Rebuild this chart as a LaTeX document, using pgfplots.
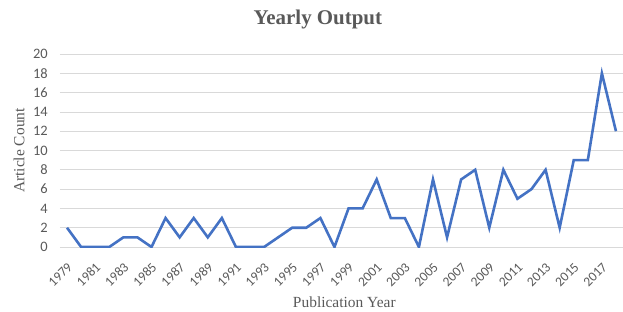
\documentclass[border=0pt]{standalone}
\usepackage{fontspec}
\setmainfont{Liberation Serif}
\newfontfamily\tickfont{Carlito}
\usepackage{pgfplots}
\pgfplotsset{compat=1.18}
\definecolor{lineblue}{RGB}{68,114,196}
\definecolor{gridgray}{RGB}{217,217,217}
\definecolor{txtgray}{RGB}{89,89,89}
\begin{document}
\begin{tikzpicture}
\useasboundingbox (-60bp,-65bp) rectangle (563bp,247bp);
\begin{axis}[
  at={(0,0)}, anchor=south west,
  scale only axis, width=563bp, height=193bp,
  xmin=1978.5, xmax=2018.5, ymin=0, ymax=20,
  xtick={1979,1981,...,2017},
  xticklabels={1979,1981,1983,1985,1987,1989,1991,1993,1995,1997,1999,2001,2003,2005,2007,2009,2011,2013,2015,2017},
  ytick={0,2,...,20},
  yticklabels={0,2,4,6,8,10,12,14,16,18,20},
  axis line style={draw=none},
  tick style={draw=none},
  ymajorgrids, grid style={gridgray, line width=0.8bp},
  every tick label/.append style={text=txtgray, inner sep=0pt},
  xticklabel style={font=\tickfont\fontsize{13.5}{15}\selectfont, xshift=3bp, yshift=-18bp, rotate=45, anchor=east},
  yticklabel style={font=\tickfont\fontsize{14.5}{16}\selectfont, anchor=east, xshift=-12bp},
  title={\textbf{Yearly Output}},
  title style={font=\fontsize{21}{24}\selectfont, text=txtgray, at={(axis description cs:0.458,1)}, anchor=base, yshift=24bp},
  xlabel={Publication Year},
  xlabel style={font=\fontsize{15.5}{18}\selectfont, text=txtgray, at={(axis description cs:0.505,0)}, anchor=base, yshift=-60bp},
  ylabel={Article Count},
  ylabel style={font=\fontsize{15.5}{18}\selectfont, text=txtgray, at={(axis description cs:0,0.5)}, anchor=center, yshift=41bp},
]
\addplot[lineblue, line width=2.6bp, line join=miter, mark=none] coordinates {
(1979,2) (1980,0) (1981,0) (1982,0) (1983,1) (1984,1) (1985,0) (1986,3) (1987,1) (1988,3)
(1989,1) (1990,3) (1991,0) (1992,0) (1993,0) (1994,1) (1995,2) (1996,2) (1997,3) (1998,0)
(1999,4) (2000,4) (2001,7) (2002,3) (2003,3) (2004,0) (2005,7) (2006,1) (2007,7) (2008,8)
(2009,2) (2010,8) (2011,5) (2012,6) (2013,8) (2014,2) (2015,9) (2016,9) (2017,18) (2018,12)
};
\end{axis}
\end{tikzpicture}
\end{document}
